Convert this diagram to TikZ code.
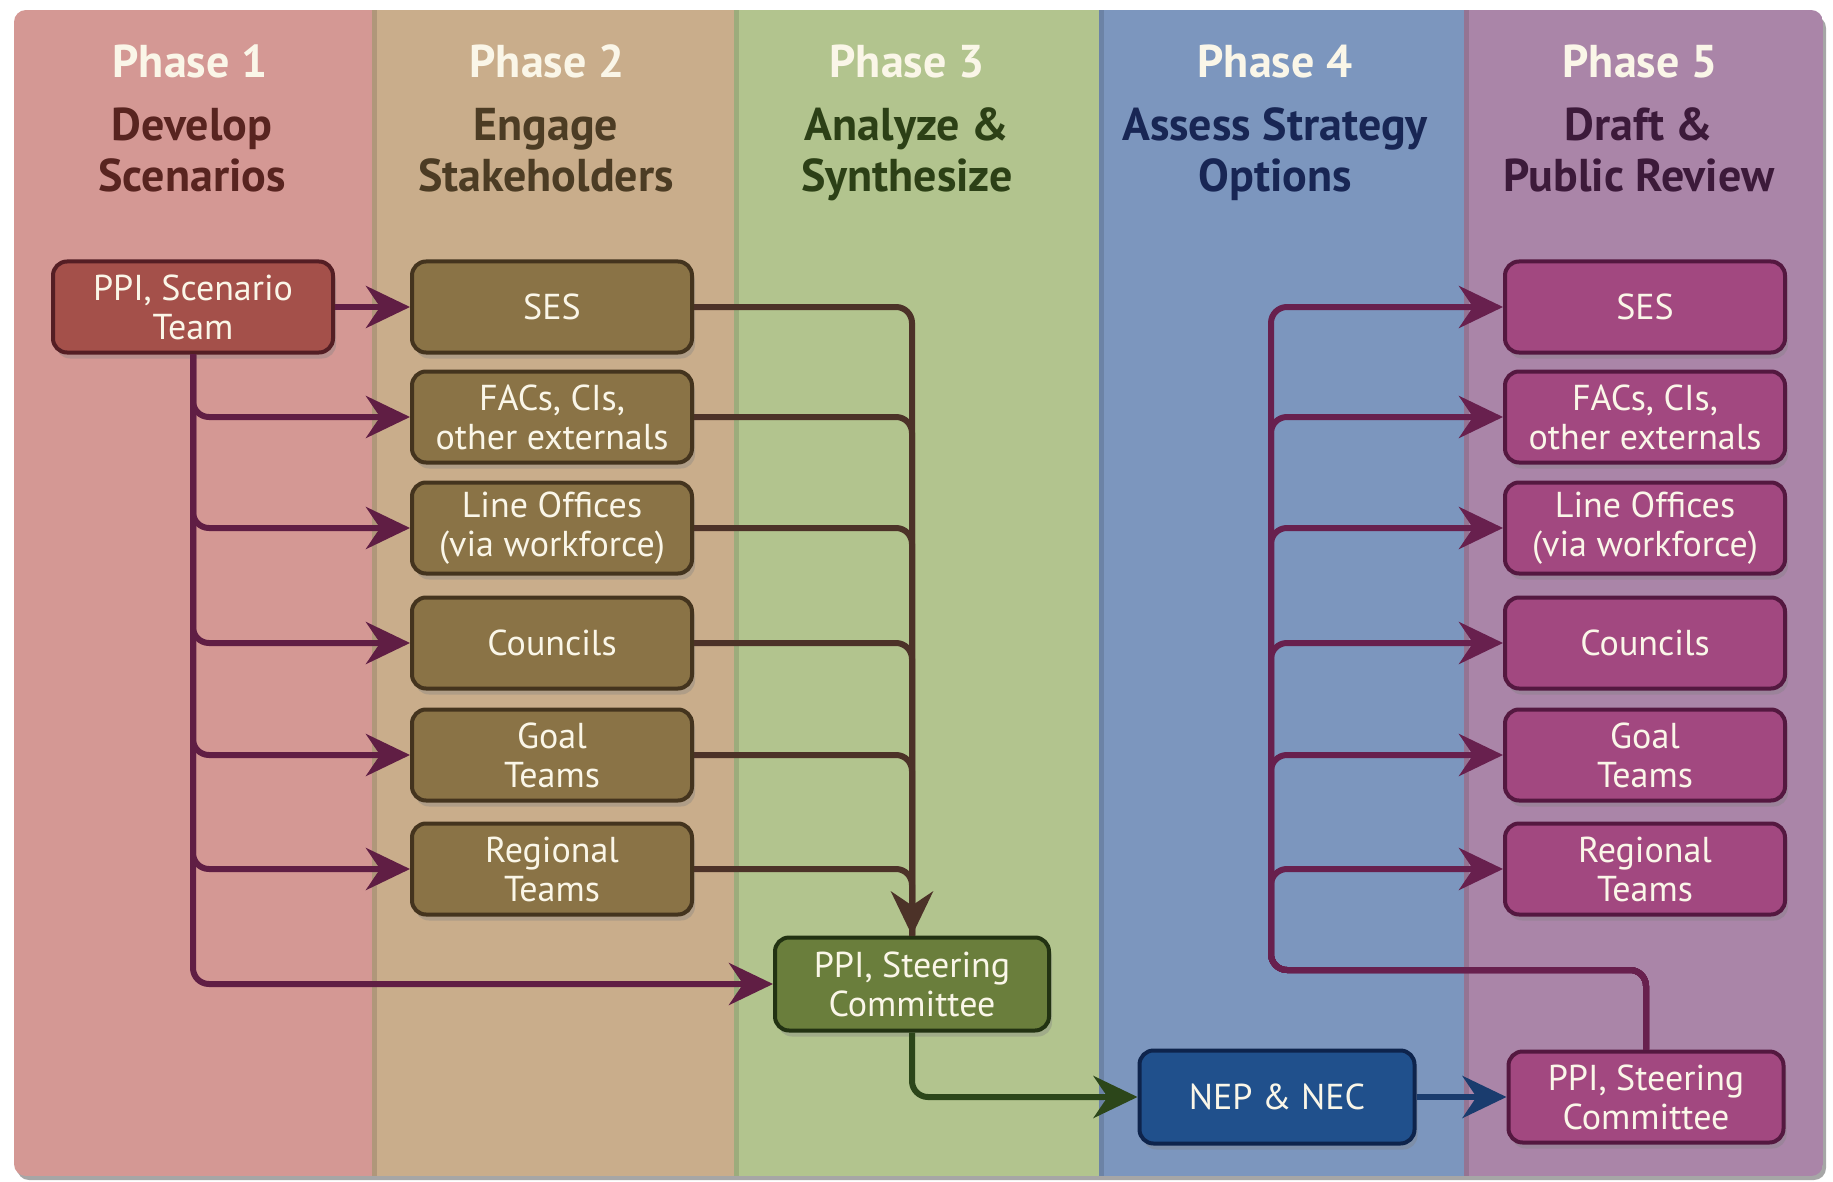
\documentclass[tikz,border=0pt]{standalone}
\usepackage{fontspec}
\setmainfont{PT Sans}
\usetikzlibrary{arrows.meta,shadows}
\definecolor{bgA}{RGB}{212,152,148}
\definecolor{bgB}{RGB}{201,173,139}
\definecolor{bgC}{RGB}{178,196,142}
\definecolor{bgD}{RGB}{124,150,190}
\definecolor{bgE}{RGB}{170,133,168}
\definecolor{fA}{RGB}{164,80,74}
\definecolor{fB}{RGB}{138,115,70}
\definecolor{fC}{RGB}{106,126,60}
\definecolor{fD}{RGB}{32,80,140}
\definecolor{fE}{RGB}{162,72,128}
\definecolor{kA}{RGB}{84,30,36}
\definecolor{kB}{RGB}{68,52,30}
\definecolor{kC}{RGB}{34,50,18}
\definecolor{kD}{RGB}{14,36,76}
\definecolor{kE}{RGB}{84,24,64}
\definecolor{tA}{RGB}{88,36,32}
\definecolor{tB}{RGB}{76,60,36}
\definecolor{tC}{RGB}{44,64,22}
\definecolor{tD}{RGB}{24,38,84}
\definecolor{tE}{RGB}{60,26,58}
\definecolor{aA}{RGB}{96,30,68}
\definecolor{aB}{RGB}{76,50,40}
\definecolor{aC}{RGB}{44,70,26}
\definecolor{aD}{RGB}{26,60,110}
\definecolor{aE}{RGB}{104,32,78}
\definecolor{txt}{RGB}{250,246,232}
\begin{document}
\begin{tikzpicture}[x=1pt,y=-1pt,
  box/.style={draw, line width=4pt, rounded corners=14pt, minimum width=280pt,
    minimum height=91pt, align=center, text=txt, inner sep=0pt,
    font=\fontsize{36}{39}\selectfont,
    drop shadow={opacity=0.35, shadow xshift=3pt, shadow yshift=-6pt}},
  boxA/.style={box, fill=fA, draw=kA},
  boxB/.style={box, fill=fB, draw=kB},
  boxC/.style={box, fill=fC, draw=kC, minimum width=274pt, minimum height=93pt},
  boxD/.style={box, fill=fD, draw=kD, minimum width=275pt, minimum height=93pt},
  boxE/.style={box, fill=fE, draw=kE},
  phasetitle/.style={anchor=base, text=txt, font=\bfseries\fontsize{46}{51}\selectfont},
  phasesub/.style={anchor=base, font=\bfseries\fontsize{46}{51}\selectfont},
  conn/.style={line width=6pt, rounded corners=16pt,
    -{Stealth[length=44pt,width=42pt,inset=14pt]}},
  plain/.style={line width=6pt, rounded corners=16pt}
]
\useasboundingbox (0,0) rectangle (1833,1182);
\fill[white] (0,0) rectangle (1833,1182);
% panel shadow
\fill[black, opacity=0.35, rounded corners=12pt] (17,16) rectangle (1826,1180);
\begin{scope}
\clip[rounded corners=12pt] (14,10) rectangle (1823,1176);
\fill[bgA] (14,10) rectangle (372,1176);
\fill[bgB] (372,10) rectangle (734,1176);
\fill[bgC] (734,10) rectangle (1099,1176);
\fill[bgD] (1099,10) rectangle (1464,1176);
\fill[bgE] (1464,10) rectangle (1823,1176);
\foreach \xx in {372,734,1099,1464}
  \fill[black, opacity=0.12] (\xx,10) rectangle (\xx+5,1176);
\end{scope}

% titles
\node[phasetitle] (h1) at (190,78) {Phase 1};
\node[phasetitle] (h2) at (547,78) {Phase 2};
\node[phasetitle] (h3) at (907,78) {Phase 3};
\node[phasetitle] (h4) at (1275,78) {Phase 4};
\node[phasetitle] (h5) at (1640,78) {Phase 5};
\node[phasesub, text=tA] (u1a) at (192,141) {Develop};
\node[phasesub, text=tA] (u1b) at (192,192) {Scenarios};
\node[phasesub, text=tB] (u2a) at (546,141) {Engage};
\node[phasesub, text=tB] (u2b) at (546,192) {Stakeholders};
\node[phasesub, text=tC] (u3a) at (907,141) {Analyze \&};
\node[phasesub, text=tC] (u3b) at (907,192) {Synthesize};
\node[phasesub, text=tD] (u4a) at (1275,141) {Assess Strategy};
\node[phasesub, text=tD] (u4b) at (1275,192) {Options};
\node[phasesub, text=tE] (u5a) at (1639,141) {Draft \&};
\node[phasesub, text=tE] (u5b) at (1639,192) {Public Review};

% nodes
\node[boxA] (p1) at (193,307) {PPI, Scenario\\Team};

\node[boxB] (b1) at (552,307) {SES};
\node[boxB] (b2) at (552,417) {FACs, CIs,\\other externals};
\node[boxB] (b3) at (552,528) {Line Offices\\(via workforce)};
\node[boxB] (b4) at (552,643) {Councils};
\node[boxB] (b5) at (552,755) {Goal\\Teams};
\node[boxB] (b6) at (552,869) {Regional\\Teams};

\node[boxC] (c1) at (912,984) {PPI, Steering\\Committee};
\node[boxD] (d1) at (1277,1097) {NEP \& NEC};
\node[boxE, minimum width=275pt] (e0) at (1646,1097) {PPI, Steering\\Committee};

\node[boxE] (e1) at (1645,307) {SES};
\node[boxE] (e2) at (1645,417) {FACs, CIs,\\other externals};
\node[boxE] (e3) at (1645,528) {Line Offices\\(via workforce)};
\node[boxE] (e4) at (1645,643) {Councils};
\node[boxE] (e5) at (1645,755) {Goal\\Teams};
\node[boxE] (e6) at (1645,869) {Regional\\Teams};

\coordinate (j5) at (1271,970);

% phase 1 -> phase 2
\draw[conn, aA] (p1.east) -- (b1.west);
\foreach \n in {b2,b3,b4,b5,b6,c1}
  \draw[conn, aA] (p1.south) |- (\n.west);

% phase 2 -> phase 3
\foreach \n in {b2,b3,b4,b5,b6}
  \draw[plain, aB] (\n.east) -| (c1.north);
\draw[conn, aB] (b1.east) -| (c1.north);

% phase 3 -> 4 -> 5
\draw[conn, aC] (c1.south) |- (d1.west);
\draw[conn, aD] (d1.east) -- (e0.west);

% phase 5 fan
\foreach \n in {e1,e2,e3,e4,e5,e6}
  \draw[conn, aE] (e0.north) |- (j5) |- (\n.west);
\end{tikzpicture}
\end{document}
